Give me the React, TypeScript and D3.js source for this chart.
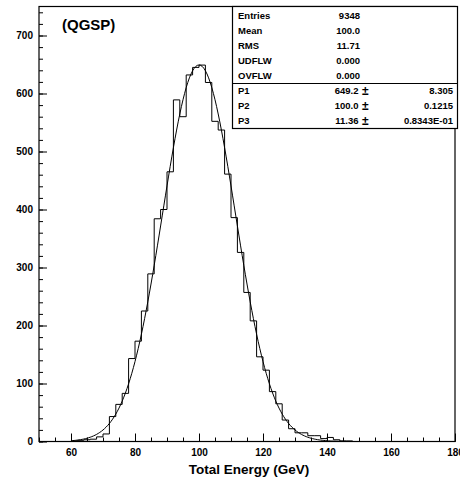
import React, { useRef, useEffect } from 'react';
import * as d3 from 'd3';

// histogram: 2 GeV bins starting at 60 GeV
const binStart = 60;
const binWidth = 2;
const counts = [1, 2, 3, 4, 8, 13, 43, 64, 83, 143, 173, 225, 289, 384, 400, 465, 589, 560, 632, 645, 649, 619,
    552, 537, 461, 386, 326, 257, 208, 146, 123, 86, 65, 37, 22, 15, 15, 10, 10, 5, 7, 3, 1, 1];

const xTicks = [60, 80, 100, 120, 140, 160, 180];
const yTicks = [0, 100, 200, 300, 400, 500, 600, 700];

const statLabels = ['Entries', 'Mean', 'RMS', 'UDFLW', 'OVFLW'];
const statValues = ['9348', '100.0', '11.71', '0.000', '0.000'];
const fitLabels = ['P1', 'P2', 'P3'];
const fitValues = ['649.2', '100.0', '11.36'];
const fitErrors = ['8.305', '0.1215', '0.8343E-01'];
// fit params (constant, mean, sigma) and fit range
const fitParams = [649.2, 100.0, 11.36];
const fitRange = [60, 146];

const W = 460;
const H = 481;
const FONT = "'Liberation Sans', Arial, Helvetica, sans-serif";

const App = () => {
    const svgRef = useRef<SVGSVGElement>(null);

    useEffect(() => {
        const svg = d3.select(svgRef.current);
        svg.selectAll('*').remove();

        const left = 39, right = 455, top = 6.5, bottom = 441.5;

        const x = d3.scaleLinear().domain([50, 180]).range([left, right]);
        const y = d3.scaleLinear().domain([0, 750]).range([bottom, top]);

        svg.append('rect')
            .attr('width', W).attr('height', H).attr('fill', 'white');

        // minor ticks
        svg.append('g')
            .attr('transform', `translate(0,${bottom})`)
            .call(d3.axisBottom(x).tickValues(d3.range(50, 181, 5)).tickSize(-4).tickFormat(() => ''))
            .call(g => g.select('.domain').remove());
        svg.append('g')
            .attr('transform', `translate(${left},0)`)
            .call(d3.axisLeft(y).tickValues(d3.range(0, 741, 20)).tickSize(-4).tickFormat(() => ''))
            .call(g => g.select('.domain').remove());

        // major ticks + labels
        const xa = svg.append('g')
            .attr('transform', `translate(0,${bottom})`)
            .call(d3.axisBottom(x).tickValues(xTicks).tickSize(-8).tickPadding(7).tickFormat(d3.format('d')));
        xa.select('.domain').remove();
        const ya = svg.append('g')
            .attr('transform', `translate(${left},0)`)
            .call(d3.axisLeft(y).tickValues(yTicks).tickSize(-8).tickPadding(6).tickFormat(d3.format('d')));
        ya.select('.domain').remove();

        svg.selectAll('.tick line').attr('stroke', 'black').attr('stroke-width', 1);
        svg.selectAll('.tick text')
            .attr('fill', 'black')
            .style('font-family', FONT)
            .style('font-weight', 'bold')
            .style('font-size', '10px');

        // histogram outline
        const pts: [number, number][] = [[binStart, 0]];
        counts.forEach((c, i) => pts.push([binStart + i * binWidth, c]));
        const end = binStart + counts.length * binWidth;
        pts.push([end, counts[counts.length - 1]]);
        pts.push([end, 0]);
        const step = d3.line<[number, number]>()
            .x(d => x(d[0]))
            .y(d => y(d[1]))
            .curve(d3.curveStepAfter);
        svg.append('path')
            .attr('d', step(pts))
            .attr('fill', 'none')
            .attr('stroke', 'black')
            .attr('stroke-width', 1);

        // fitted gaussian
        const [p1, p2, p3] = fitParams;
        const fx = d3.range(fitRange[0], fitRange[1] + 0.01, 0.5);
        const curve = d3.line<number>()
            .x(d => x(d))
            .y(d => y(p1 * Math.exp(-0.5 * ((d - p2) / p3) ** 2)))
            .curve(d3.curveMonotoneX);
        svg.append('path')
            .attr('d', curve(fx))
            .attr('fill', 'none')
            .attr('stroke', 'black')
            .attr('stroke-width', 1);

        // frame
        svg.append('rect')
            .attr('x', left).attr('y', top)
            .attr('width', right - left).attr('height', bottom - top)
            .attr('fill', 'none').attr('stroke', 'black').attr('stroke-width', 1.2);

        // stats box
        const bx = 232.5, bTop = 6.5, bw = 225, bDiv = 83.5, bBot = 128.5;
        const box = svg.append('g')
            .style('font-family', FONT)
            .style('font-weight', 'bold')
            .style('font-size', '9.5px');
        box.append('rect')
            .attr('x', bx).attr('y', bTop).attr('width', bw).attr('height', bBot - bTop)
            .attr('fill', 'white').attr('stroke', 'black').attr('stroke-width', 1.2);
        box.append('line')
            .attr('x1', bx).attr('x2', bx + bw).attr('y1', bDiv).attr('y2', bDiv)
            .attr('stroke', 'black').attr('stroke-width', 1.2);

        statLabels.forEach((s, i) => {
            const by = 18.5 + i * 15;
            box.append('text').attr('x', 238).attr('y', by).text(s);
            box.append('text').attr('x', 360).attr('y', by).attr('text-anchor', 'end').text(statValues[i]);
        });
        fitLabels.forEach((s, i) => {
            const by = 94 + i * 15;
            box.append('text').attr('x', 238).attr('y', by).text(s);
            box.append('text').attr('x', 358.5).attr('y', by).attr('text-anchor', 'end').text(fitValues[i]);
            box.append('text').attr('x', 362).attr('y', by + 0.5).style('font-size', '12px').text('±');
            box.append('text').attr('x', 453).attr('y', by).attr('text-anchor', 'end').text(fitErrors[i]);
        });

        // labels
        svg.append('text')
            .attr('x', 62).attr('y', 30)
            .style('font-family', FONT).style('font-weight', 'bold').style('font-size', '15px')
            .text('(QGSP)');
        svg.append('text')
            .attr('x', 249).attr('y', 474)
            .attr('text-anchor', 'middle')
            .style('font-family', FONT).style('font-weight', 'bold').style('font-size', '13.5px')
            .text('Total Energy (GeV)');
    }, []);

    return (
        <div style={{ position: 'absolute', left: 0, top: 0 }}>
            <svg ref={svgRef} width={W} height={H} style={{ display: 'block' }} />
        </div>
    );
};

export default App;
